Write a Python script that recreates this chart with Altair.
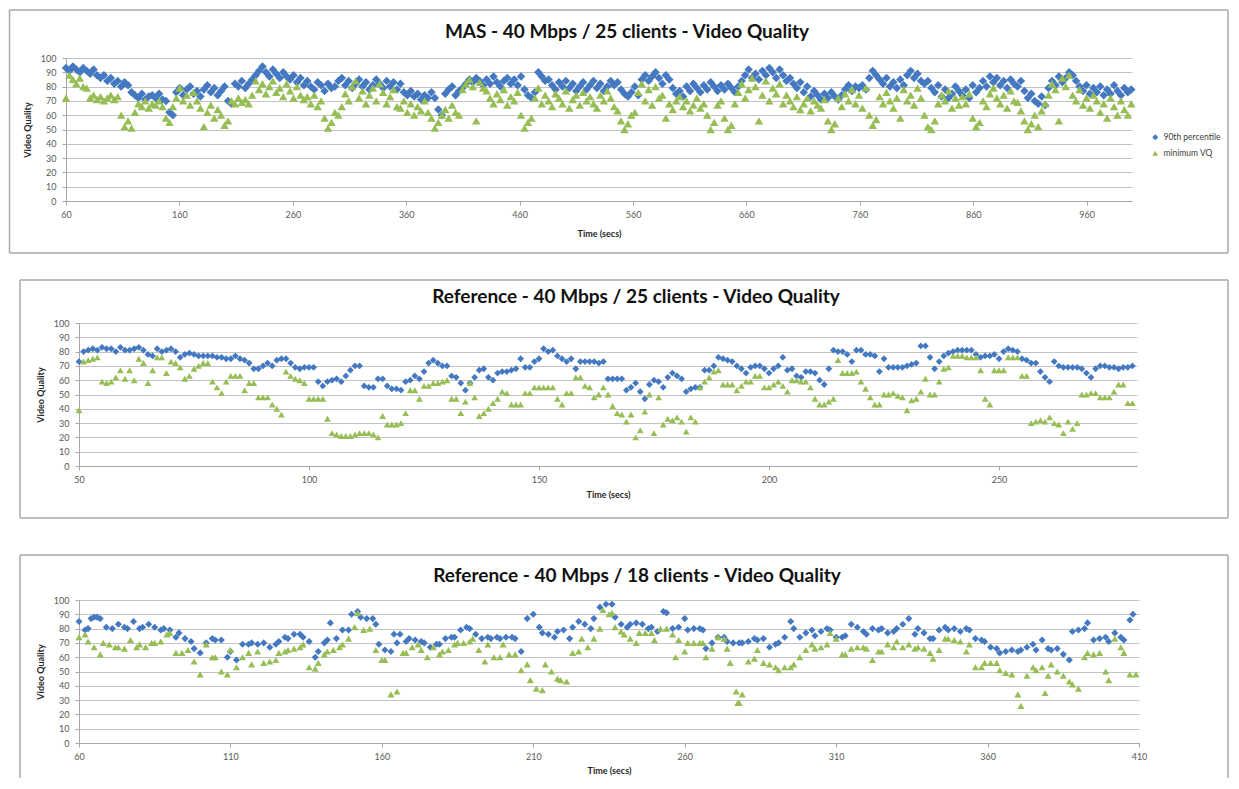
import altair as alt
import pandas as pd

SERIES = ["90th percentile", "minimum VQ"]
COLORS = ["#4479C2", "#96BE55"]
SHAPES = ["diamond", "triangle-up"]

TITLES = [
    "MAS - 40 Mbps / 25 clients - Video Quality",
    "Reference - 40 Mbps / 25 clients - Video Quality",
    "Reference - 40 Mbps / 18 clients - Video Quality",
]
X_TITLE = "Time (secs)"
Y_TITLE = "Video Quality"
Y_TICKS = [0, 10, 20, 30, 40, 50, 60, 70, 80, 90, 100]

P1_TICKS = [60, 160, 260, 360, 460, 560, 660, 760, 860, 960]
P2_TICKS = [50, 100, 150, 200, 250]
P3_TICKS = [60, 110, 160, 210, 260, 310, 360, 410]

# ---- Panel 1: MAS, sampled every ~3 s from t = 60 ----
P1_T0, P1_STEP = 60, 3.04
P1_P90 = [
    93, 91, 94, 92, 90, 93, 91, 89, 92, 88,
    86, 88, 84, 86, 82, 84, 80, 83, 81, 76,
    74, 72, 75, 71, 73, 74, 72, 75, 71, 70,
    62, 60, 76, 79, 74, 78, 80, 75, 77, 73,
    78, 81, 76, 79, 74, 77, 80, 70, 68, 82,
    80, 84, 79, 82, 85, 88, 91, 94, 90, 87,
    92, 89, 86, 90, 87, 85, 88, 83, 86, 81,
    84, 80, 78, 83, 81, 77, 82, 79, 80, 84,
    86, 81, 84, 79, 82, 85, 80, 83, 78, 81,
    85, 82, 79, 84, 80, 83, 78, 82, 76, 74,
    77, 73, 75, 71, 74, 72, 76, 72, 64, 60,
    75, 78, 80, 74, 77, 79, 82, 85, 83, 86,
    84, 81, 85, 82, 87, 83, 80, 84, 86, 82,
    85, 81, 87, 78, 74, 72, 76, 90, 87, 84,
    85, 81, 78, 83, 80, 84, 79, 82, 77, 80,
    83, 78, 81, 84, 79, 82, 77, 80, 84, 81,
    83, 78, 75, 73, 76, 80, 74, 85, 88, 84,
    87, 90, 86, 82, 88, 85, 79, 75, 77, 73,
    80, 77, 82, 79, 76, 81, 78, 83, 80, 77,
    81, 78, 82, 79, 76, 80, 84, 88, 92, 86,
    89, 85, 91, 88, 93, 90, 86, 92, 88, 84,
    86, 82, 79, 83, 76, 80, 73, 77, 74, 71,
    75, 72, 76, 73, 71, 74, 78, 81, 77, 80,
    79, 81, 78, 86, 91, 88, 85, 82, 86, 80,
    83, 79, 85, 81, 88, 91, 86, 89, 84, 82,
    84, 79, 76, 81, 73, 78, 72, 75, 80, 77,
    74, 78, 72, 81, 76, 79, 84, 80, 87, 83,
    86, 81, 84, 79, 85, 82, 80, 84, 77, 72,
    75, 70, 68, 73, 67, 79, 84, 81, 87, 83,
    86, 90, 88, 84, 80, 77, 81, 75, 79, 76,
    80, 74, 78, 75, 81, 77, 74, 79, 76, 78,
]
P1_MIN = [
    72, 88, 85, 82, 86, 80, 79, 72, 74, 71,
    73, 70, 72, 74, 71, 73, 60, 52, 56, 51,
    62, 68, 66, 70, 65, 68, 67, 70, 66, 58,
    55, 66, 72, 79, 70, 74, 67, 76, 70, 65,
    52, 62, 67, 58, 64, 60, 53, 56, 70, 68,
    72, 69, 71, 68, 74, 84, 78, 82, 75, 80,
    84, 76, 79, 73, 82, 77, 72, 80, 74, 71,
    73, 68, 74, 66, 70, 58, 51, 55, 62, 60,
    66, 75, 70, 80, 84, 72, 77, 68, 74, 79,
    70, 82, 76, 68, 73, 78, 66, 65, 70, 62,
    68, 60, 66, 63, 70, 62, 58, 51, 55, 60,
    64, 58, 67, 62, 60, 78, 82, 85, 80, 56,
    83, 79, 77, 72, 68, 75, 71, 78, 67, 73,
    70, 76, 60, 51, 55, 58, 72, 79, 68, 74,
    70, 66, 75, 72, 68, 77, 65, 71, 74, 67,
    76, 70, 73, 68, 65, 74, 70, 77, 72, 66,
    63, 56, 50, 54, 60, 62, 76, 82, 70, 78,
    67, 80, 72, 74, 58, 68, 64, 70, 73, 66,
    70, 63, 67, 72, 65, 68, 60, 50, 55, 67,
    70, 58, 50, 53, 68, 76, 82, 72, 78, 86,
    80, 56, 74, 84, 70, 79, 75, 82, 68, 74,
    70, 66, 73, 64, 68, 72, 63, 70, 67, 65,
    71, 56, 50, 54, 72, 66, 75, 70, 78, 68,
    74, 65, 79, 60, 53, 57, 73, 68, 76, 70,
    65, 72, 58, 78, 70, 74, 67, 79, 72, 60,
    52, 50, 56, 68, 74, 70, 77, 65, 72, 67,
    73, 68, 75, 58, 52, 55, 70, 66, 75, 79,
    72, 68, 74, 65, 77, 70, 69, 63, 56, 50,
    54, 60, 52, 63, 68, 74, 82, 78, 56, 86,
    80, 88, 74, 70, 78, 67, 72, 65, 74, 70,
    62, 68, 58, 72, 66, 60, 70, 64, 60, 68,
]

# ---- Panel 2: Reference 25 clients, one sample per second from t = 50 ----
P2_T0, P2_STEP = 50, 1
P2_P90 = [
    73, 80, 81, 82, 81, 83, 82, 82, 80, 83,
    81, 81, 82, 83, 81, 78, 77, 82, 80, 81,
    82, 80, 76, 78, 79, 78, 77, 77, 77, 77,
    76, 76, 75, 75, 77, 75, 74, 72, 68, 68,
    70, 72, 70, 74, 75, 75, 72, 69, 68, 69,
    69, 69, 59, 56, 59, 60, 61, 59, 63, 67,
    70, 70, 56, 55, 55, 61, 61, 56, 54, 54,
    53, 59, 60, 63, 61, 66, 72, 74, 72, 70,
    70, 63, 62, 58, 53, 58, 62, 67, 68, 62,
    60, 65, 66, 66, 67, 68, 75, 69, 69, 73,
    75, 82, 80, 81, 77, 75, 73, 75, 68, 73,
    73, 73, 73, 72, 73, 61, 61, 61, 61, 53,
    55, 58, 52, 47, 57, 60, 59, 55, 62, 65,
    63, 61, 52, 54, 55, 55, 67, 67, 70, 76,
    75, 74, 73, 70, 68, 65, 69, 70, 70, 68,
    65, 68, 70, 76, 67, 68, 63, 62, 66, 66,
    65, 60, 57, 68, 81, 80, 80, 78, 73, 81,
    81, 78, 78, 77, 66, 75, 69, 69, 69, 69,
    70, 71, 72, 84, 84, 76, 68, 73, 77, 79,
    80, 81, 81, 81, 81, 78, 76, 77, 77, 78,
    75, 80, 82, 81, 80, 75, 74, 72, 72, 66,
    62, 59, 73, 70, 69, 69, 69, 69, 68, 65,
    62, 68, 70, 70, 69, 69, 68, 69, 69, 70,
]
P2_MIN = [
    39, 73, 74, 75, 76, 59, 58, 59, 62, 67,
    61, 67, 60, 75, 72, 58, 67, 76, 76, 65,
    73, 72, 69, 61, 63, 68, 70, 72, 72, 59,
    55, 51, 59, 63, 63, 63, 53, 58, 58, 48,
    48, 48, 43, 40, 36, 66, 63, 61, 60, 58,
    47, 47, 47, 47, 33, 23, 22, 21, 21, 21,
    22, 23, 23, 23, 22, 20, 35, 29, 29, 29,
    30, 37, 53, 53, 47, 56, 56, 58, 58, 59,
    60, 47, 47, 37, 45, 58, 48, 35, 37, 40,
    44, 47, 52, 51, 43, 43, 43, 51, 51, 55,
    55, 55, 55, 55, 47, 43, 51, 51, 62, 62,
    56, 55, 48, 50, 55, 50, 42, 37, 36, 31,
    36, 20, 25, 38, 50, 23, 48, 29, 33, 32,
    34, 31, 24, 34, 31, 55, 59, 62, 66, 67,
    57, 57, 57, 53, 56, 59, 59, 63, 63, 55,
    55, 57, 59, 56, 52, 60, 60, 59, 59, 55,
    47, 43, 43, 45, 47, 74, 65, 65, 65, 66,
    59, 54, 48, 43, 43, 50, 50, 51, 49, 48,
    39, 46, 47, 52, 61, 50, 50, 59, 68, 69,
    77, 77, 77, 76, 76, 76, 67, 47, 43, 67,
    67, 67, 76, 76, 76, 63, 63, 30, 31, 32,
    31, 34, 30, 29, 23, 31, 26, 30, 50, 50,
    51, 51, 48, 48, 48, 52, 57, 57, 44, 44,
]

# ---- Panel 3: Reference 18 clients (times) ----
P3_T_P90 = [
    60, 62, 63, 64, 65, 66, 67, 69, 71, 73, 75, 76, 78, 80, 81, 83, 85, 87, 88, 90,
    92, 93, 95, 97, 98, 100, 102, 104, 105, 107, 109, 110, 112, 114, 116, 117, 119, 121, 123, 125,
    126, 128, 129, 131, 133, 134, 136, 138, 139, 141, 142, 143, 145, 147, 149, 150, 152, 153, 155, 157,
    158, 159, 161, 163, 164, 165, 166, 168, 169, 171, 173, 174, 176, 178, 179, 181, 183, 184, 186, 188,
    189, 191, 193, 195, 196, 198, 199, 201, 203, 204, 206, 208, 210, 212, 213, 215, 217, 218, 220, 222,
    223, 225, 227, 229, 230, 232, 234, 236, 237, 239, 241, 242, 244, 246, 248, 249, 251, 253, 254, 256,
    258, 260, 261, 263, 265, 266, 267, 269, 271, 273, 274, 276, 278, 279, 281, 283, 284, 286, 288, 290,
    291, 293, 295, 296, 298, 300, 302, 303, 305, 307, 308, 310, 312, 313, 315, 317, 319, 320, 322, 324,
    325, 327, 329, 330, 332, 334, 336, 337, 339, 341, 342, 344, 346, 347, 349, 351, 353, 354, 356, 358,
    359, 361, 363, 364, 366, 368, 370, 371, 373, 375, 376, 378, 380, 381, 383, 385, 387, 388, 390, 392,
    393, 395, 397, 399, 400, 402, 404, 405, 407, 408,
]
P3_P90 = [
    85, 79, 80, 87, 88, 88, 87, 81, 80, 83, 81, 80, 85, 80, 81, 83, 81, 79, 80, 79,
    74, 77, 73, 71, 66, 63, 70, 73, 72, 72, 60, 64, 58, 69, 69, 70, 69, 70, 67, 69,
    71, 74, 73, 76, 76, 74, 71, 60, 64, 70, 72, 84, 73, 79, 79, 90, 92, 88, 87, 87,
    83, 69, 65, 64, 76, 70, 76, 71, 73, 72, 71, 70, 67, 69, 69, 73, 74, 74, 79, 81,
    80, 76, 73, 74, 73, 74, 73, 74, 74, 73, 64, 87, 90, 81, 77, 76, 74, 78, 79, 73,
    81, 85, 83, 80, 87, 95, 97, 97, 88, 83, 81, 83, 84, 83, 80, 81, 78, 92, 91, 80,
    81, 87, 79, 80, 80, 79, 66, 70, 74, 74, 71, 70, 70, 70, 71, 73, 72, 73, 67, 69,
    70, 74, 85, 80, 74, 77, 79, 75, 78, 80, 79, 74, 74, 75, 83, 81, 78, 76, 80, 79,
    80, 77, 78, 80, 83, 87, 76, 80, 77, 73, 73, 79, 81, 79, 80, 78, 80, 79, 73, 72,
    71, 67, 66, 63, 64, 65, 64, 65, 67, 69, 65, 72, 66, 65, 66, 62, 58, 78, 79, 80,
    84, 72, 73, 74, 71, 77, 74, 72, 86, 90,
]
P3_T_MIN = [
    60, 62, 63, 65, 67, 68, 70, 72, 73, 75, 77, 79, 80, 82, 84, 85, 87, 89, 90, 92,
    94, 96, 98, 100, 102, 104, 105, 107, 109, 110, 112, 114, 116, 117, 119, 121, 123, 125, 126, 128,
    129, 131, 133, 134, 136, 138, 139, 141, 142, 144, 146, 147, 149, 151, 152, 154, 156, 158, 160, 161,
    163, 165, 167, 168, 170, 172, 173, 175, 177, 179, 180, 182, 184, 185, 187, 189, 190, 192, 194, 195,
    197, 199, 200, 202, 204, 206, 208, 209, 211, 213, 214, 216, 218, 219, 221, 223, 225, 226, 228, 230,
    232, 233, 235, 236, 237, 239, 240, 242, 244, 245, 247, 249, 250, 252, 254, 256, 257, 258, 260, 261,
    263, 265, 266, 267, 269, 271, 273, 274, 275, 277, 277.5, 278, 279, 281, 283, 284, 286, 288, 290, 291,
    293, 295, 296, 298, 300, 302, 303, 305, 307, 308, 310, 312, 313, 315, 317, 319, 320, 322, 324, 325,
    327, 329, 330, 332, 334, 336, 337, 339, 341, 342, 344, 346, 347, 349, 351, 353, 354, 356, 358, 359,
    361, 363, 364, 366, 368, 370, 371, 373, 375, 376, 378, 379, 380, 381, 383, 385, 387, 388, 390, 392,
    393, 395, 397, 399, 400, 402, 404, 405, 407, 409,
]
P3_MIN = [
    74, 76, 71, 67, 62, 70, 69, 67, 67, 66, 72, 67, 69, 67, 70, 70, 71, 76, 77, 63,
    63, 65, 57, 48, 69, 60, 60, 50, 48, 65, 53, 60, 63, 55, 64, 56, 57, 58, 63, 64,
    65, 66, 67, 69, 53, 52, 56, 62, 64, 65, 67, 69, 73, 81, 91, 79, 80, 65, 58, 58,
    34, 36, 63, 63, 67, 69, 65, 60, 67, 62, 64, 65, 69, 70, 70, 71, 73, 65, 57, 69,
    60, 60, 69, 62, 62, 51, 55, 44, 38, 37, 55, 50, 45, 44, 43, 63, 64, 73, 67, 73,
    80, 93, 90, 91, 81, 78, 76, 73, 70, 77, 77, 77, 72, 80, 80, 76, 60, 72, 64, 70,
    70, 70, 70, 60, 66, 74, 73, 66, 56, 36, 28, 28, 34, 57, 59, 65, 56, 55, 53, 51,
    53, 53, 55, 60, 65, 69, 66, 67, 69, 77, 73, 62, 62, 66, 67, 67, 66, 58, 64, 64,
    69, 67, 71, 67, 69, 66, 67, 66, 63, 59, 65, 73, 73, 72, 71, 64, 69, 53, 53, 56,
    56, 56, 51, 49, 48, 34, 26, 47, 53, 51, 53, 35, 47, 55, 50, 47, 43, 41, 38, 60,
    63, 62, 63, 50, 44, 73, 67, 63, 48, 48,
]


def regular_times(t0, step, values):
    return [round(t0 + i * step, 2) for i in range(len(values))]


def long_table(t_a, v_a, t_b, v_b):
    rows = [{"t": t, "vq": v, "series": SERIES[0]} for t, v in zip(t_a, v_a)]
    rows += [{"t": t, "vq": v, "series": SERIES[1]} for t, v in zip(t_b, v_b)]
    return pd.DataFrame(rows)


ONE = pd.DataFrame({"k": [0]})
FRAME_COLOR = "#A9A9A9"


def panel(df, title, xdomain, xticks, shift, data_w, H, bounds, frame, title_pos,
          leg, xtp, msize, open_bottom=False):
    W = shift + data_w
    bx1, bx2, by1, by2 = bounds
    box = alt.Chart(ONE).mark_rect(fill="white", opacity=0).encode(
        x=alt.value(bx1), x2=alt.value(bx2), y=alt.value(by1), y2=alt.value(by2)
    )
    fx1, fx2, fy1, fy2 = frame
    segs = [(fx1, fx1, fy1, fy2), (fx2, fx2, fy1, fy2), (fx1, fx2, fy1, fy1)]
    if not open_bottom:
        segs.append((fx1, fx2, fy2, fy2))
    frame_layers = [
        alt.Chart(ONE).mark_rule(color=FRAME_COLOR, strokeWidth=1.5).encode(
            x=alt.value(a), x2=alt.value(b), y=alt.value(c), y2=alt.value(d)
        )
        for a, b, c, d in segs
    ]
    lx, ly, rp, ll = leg
    legend = alt.Legend(
        title=None, orient="none", legendX=lx, legendY=ly,
        labelFont="Lato", labelFontSize=8.5, labelColor="#404040",
        symbolSize=36, rowPadding=rp, labelLimit=ll, labelOffset=4,
    )
    pts = alt.Chart(df).mark_point(filled=True, size=msize, opacity=1).encode(
        x=alt.X(
            "t:Q",
            scale=alt.Scale(domain=xdomain, nice=False, zero=False, range=[shift, W]),
            axis=alt.Axis(values=xticks, title=X_TITLE, grid=False, tickSize=4,
                          labelPadding=5, titlePadding=xtp, labelFlush=False),
        ),
        y=alt.Y(
            "vq:Q",
            scale=alt.Scale(domain=[0, 100], nice=False),
            axis=alt.Axis(values=Y_TICKS, title=Y_TITLE, grid=True, tickSize=4,
                          labelPadding=6, titlePadding=8, labelFlush=False,
                          offset=-shift),
        ),
        color=alt.Color("series:N", scale=alt.Scale(domain=SERIES, range=COLORS), legend=legend),
        shape=alt.Shape("series:N", scale=alt.Scale(domain=SERIES, range=SHAPES), legend=legend),
    )
    tx, ty = title_pos
    ttl = alt.Chart(ONE).mark_text(
        text=title, font="Lato", fontSize=19, fontWeight="bold", color="#111111",
        align="center", baseline="middle",
    ).encode(x=alt.value(tx), y=alt.value(ty))
    return alt.layer(box, *frame_layers, pts, ttl).properties(width=W, height=H)


df1 = long_table(regular_times(P1_T0, P1_STEP, P1_P90), P1_P90,
                 regular_times(P1_T0, P1_STEP, P1_MIN), P1_MIN)
df2 = long_table(regular_times(P2_T0, P2_STEP, P2_P90), P2_P90,
                 regular_times(P2_T0, P2_STEP, P2_MIN), P2_MIN)
df3 = long_table(P3_T_P90, P3_P90, P3_T_MIN, P3_MIN)

# all three group origins sit at page x = 65; panels 2 and 3 start their data 13 px further right
p1 = panel(df1, TITLES[0], [60, 1000], P1_TICKS, 0, 1066, 143,
           bounds=(-57, 1163, -50, 208), frame=(-56.5, 1162, -48, 195),
           title_pos=(561, -26), leg=(1085, 75, 7, 80), xtp=10, msize=72)
p2 = panel(df2, TITLES[1], [50, 280], P2_TICKS, 13, 1058, 143,
           bounds=(-57, 1163, -57, 213), frame=(-46, 1162, -43, 195),
           title_pos=(570, -26), leg=(1095, 77, 9, 56), xtp=6, msize=46)
p3 = panel(df3, TITLES[2], [60, 410], P3_TICKS, 13, 1060, 143,
           bounds=(-57, 1163, -64, 178), frame=(-46, 1162, -45, 178),
           title_pos=(571, -24), leg=(1099, 76, 9, 52), xtp=5, msize=50,
           open_bottom=True)

chart = (
    alt.concat(p1, p2, p3, columns=1, spacing=0)
    .properties(padding=0)
    .configure_view(strokeWidth=0)
    .configure_axis(
        labelFont="Lato", titleFont="Lato", labelFontSize=9, titleFontSize=9,
        labelColor="#595959", titleColor="#262626", titleFontWeight="bold",
        domainColor="#A6A6A6", tickColor="#A6A6A6", gridColor="#C4C4C4",
    )
)

chart.save("out.html", embed_options={"renderer": "svg", "actions": False})
